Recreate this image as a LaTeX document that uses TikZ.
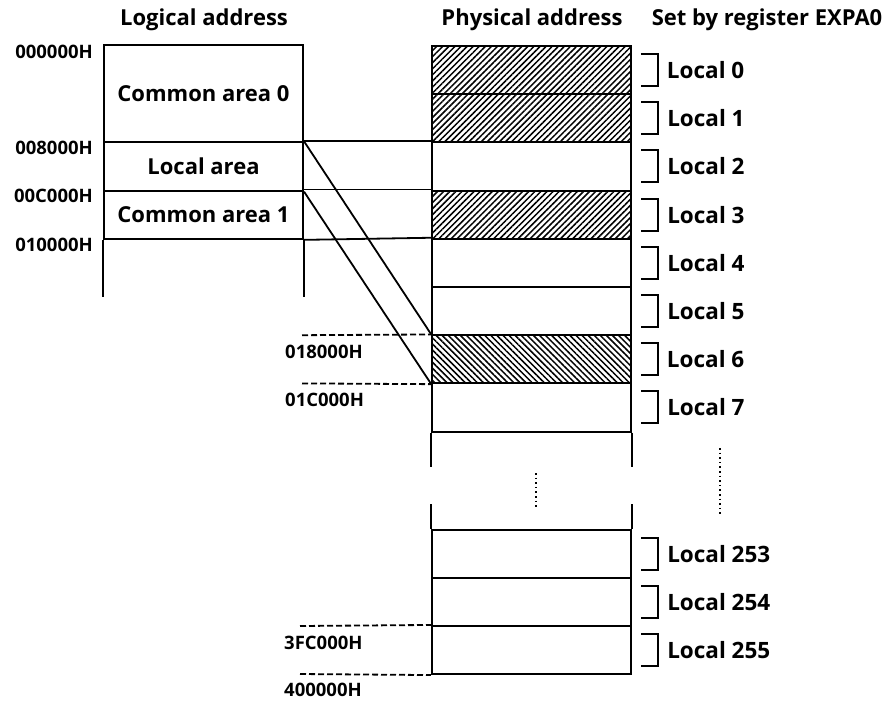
\documentclass[tikz,border=0pt]{standalone}
\usepackage{fontspec}
\setmainfont{Open Sans}
\usepackage{tikz}
\usetikzlibrary{patterns.meta,positioning,calc}

\begin{document}
\begin{tikzpicture}[
    x=1pt, y=-1pt,
    font=\bfseries,
    head/.style={font=\fontsize{22}{26}\selectfont\bfseries},
    area/.style={draw, line width=2.1pt, minimum width=199pt, inner sep=0pt, font=\fontsize{22}{26}\selectfont\bfseries},
    row/.style={draw, line width=2.1pt, minimum width=199pt, minimum height=48.2pt, inner sep=0pt},
    hatchup/.style={pattern={Lines[angle=45,distance=4.3pt,line width=1.5pt]}},
    hatchdown/.style={pattern={Lines[angle=-45,distance=4.3pt,line width=1.5pt]}},
    addr/.style={font=\fontsize{18.5}{22}\selectfont\bfseries, inner sep=0pt},
    loc/.style={anchor=west, inner sep=0pt, font=\fontsize{22.5}{26}\selectfont\bfseries},
    link/.style={line width=1.8pt},
    guide/.style={line width=1.8pt, dash pattern=on 6pt off 3pt}
]
\useasboundingbox (0,0) rectangle (889,702);

% column titles
\node[head] (thlog) at (204,20) {Logical address};
\node[head] (thphy) at (532,20) {Physical address};
\node[head] (threg) at (767,20) {Set by register EXPA0};

% logical address space
\node[area, minimum height=97.4pt] (lg0) at (203.5,93.7) {Common area 0};
\node[area, minimum height=48.2pt] (lgloc) at (203.5,166.5) {Local area};
\node[area, minimum height=48.2pt] (lg1) at (203.5,214.7) {Common area 1};
\draw[line width=2.1pt] (lg1.south west) -- ++(0,57);
\draw[line width=2.1pt] (lg1.south east) -- ++(0,57);

\node[addr, anchor=east] (a0) at (93,52) {000000H};
\node[addr, anchor=east] (a1) at (93,148) {008000H};
\node[addr, anchor=east] (a2) at (93,196) {00C000H};
\node[addr, anchor=east] (a3) at (93,245) {010000H};

% physical address space, upper part
\node[row, hatchup] (p0) at (531.5,70.1) {};
\node[row, hatchup] (p1) at (531.5,118.3) {};
\node[row] (p2) at (531.5,166.5) {};
\node[row, hatchup] (p3) at (531.5,214.7) {};
\node[row] (p4) at (531.5,262.9) {};
\node[row] (p5) at (531.5,311.1) {};
\node[row, hatchdown] (p6) at (531.5,359.3) {};
\node[row] (p7) at (531.5,407.5) {};
\draw[line width=2.1pt] (p7.south west) -- ++(0,34);
\draw[line width=2.1pt] (p7.south east) -- ++(0,34);

% physical address space, lower part
\node[row, minimum height=48pt] (p253) at (531.5,554) {};
\node[row, minimum height=48pt] (p254) at (531.5,602) {};
\node[row, minimum height=48pt] (p255) at (531.5,650) {};
\draw[line width=2.1pt] (p253.north west) -- ++(0,-25);
\draw[line width=2.1pt] (p253.north east) -- ++(0,-25);

% continuation dots
\draw[line width=1.6pt, dash pattern=on 1.6pt off 3pt] (536,473) -- (536,507);
\draw[line width=1.6pt, dash pattern=on 1.6pt off 3pt] (720,448) -- (720,515);

% mapping of the local area
\draw[link] (lgloc.north east) -- (p2.north west);
\draw[link] (lg1.north east) -- (p3.north west);
\draw[link] (lg1.south east) -- (p4.north west);
\draw[link] (lgloc.north east) -- (p6.north west);
\draw[link] (lgloc.south east) -- (p6.south west);

% physical boundary marks
\coordinate (d1) at (302,335.2);
\coordinate (d2) at (302,383.4);
\coordinate (d3) at (300,626);
\coordinate (d4) at (300,674);
\draw[guide] (d1) -- (p6.north west);
\draw[guide] (d2) -- (p6.south west);
\draw[guide] (d3) -- (p255.north west);
\draw[guide] (d4) -- (p255.south west);
\node[addr, anchor=west] (b1) at (285,352) {018000H};
\node[addr, anchor=west] (b2) at (285,400) {01C000H};
\node[addr, anchor=west] (b3) at (284,643) {3FC000H};
\node[addr, anchor=west] (b4) at (284,690) {400000H};

% EXPA0 settings
\foreach \r/\t in {p0/0, p1/1, p2/2, p3/3, p4/4, p5/5, p6/6, p7/7, p253/253, p254/254, p255/255} {
  \draw[line width=2pt] ($(\r.north east)+(9,9)$) -- ++(17,0) -- ++(0,32) -- ++(-17,0);
  \node[loc] (l\t) at ($(\r.east)+(35,0)$) {Local \t};
}
\end{tikzpicture}
\end{document}
